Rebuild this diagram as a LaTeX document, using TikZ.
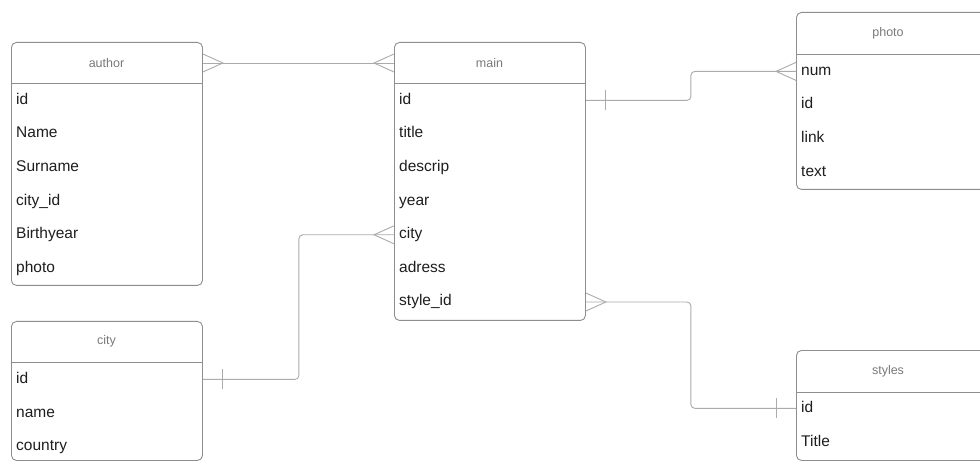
\documentclass[tikz,border=0pt]{standalone}
\usepackage{fontspec}
\setmainfont{Liberation Sans}
\definecolor{boxgray}{HTML}{8E8E8E}
\definecolor{linkgray}{HTML}{ABABAB}
\definecolor{hdrgray}{HTML}{7A7A7A}
\definecolor{fieldtext}{HTML}{1E1E1E}
\tikzset{
  tbl/.style={draw=boxgray, line width=0.9pt, rounded corners=5pt, anchor=north west, inner sep=0pt},
  hdr/.style={font=\fontsize{12.5}{15}\selectfont, text=hdrgray},
  field/.style={anchor=west, inner sep=0pt, text height=11pt, text depth=3pt, font=\fontsize{15.5}{18}\selectfont, text=fieldtext},
  hline/.style={draw=boxgray, line width=0.9pt},
  link/.style={draw=linkgray, line width=0.9pt},
}
\begin{document}
\begin{tikzpicture}[x=1pt,y=-1pt]
    \clip (0,0) rectangle (980,462);
    \fill[white] (0,0) rectangle (980,462);
    % tables
    \node[tbl, minimum width=191pt, minimum height=243pt] (author) at (11,42) {};
    \node[tbl, minimum width=191pt, minimum height=278pt] (main) at (394,42) {};
    \node[tbl, minimum width=194pt, minimum height=177pt] (photo) at (796,12) {};
    \node[tbl, minimum width=191pt, minimum height=139pt] (city) at (11,321) {};
    \node[tbl, minimum width=194pt, minimum height=110pt] (styles) at (796,350) {};
    % headers
    \node[hdr] (author-h) at (106.5,63) {author};
    \node[hdr] (main-h) at (489.5,63) {main};
    \node[hdr] (photo-h) at (888,33) {photo};
    \node[hdr] (city-h) at (106.5,341) {city};
    \node[hdr] (styles-h) at (888,371) {styles};
    \draw[hline] (author.west |- 0,83) -- (author.east |- 0,83);
    \draw[hline] (main.west |- 0,83) -- (main.east |- 0,83);
    \draw[hline] (photo.west |- 0,54) -- (photo.east |- 0,54);
    \draw[hline] (city.west |- 0,362) -- (city.east |- 0,362);
    \draw[hline] (styles.west |- 0,392) -- (styles.east |- 0,392);
    % fields
    \foreach \f [count=\i] in {id,Name,Surname,city\_id,Birthyear,photo}
        \node[field] (author-\i) at (16,{66.8+33.6*\i}) {\f};
    \foreach \f [count=\i] in {id,title,descrip,year,city,adress,style\_id}
        \node[field] (main-\i) at (399,{66.8+33.6*\i}) {\f};
    \foreach \f [count=\i] in {num,id,link,text}
        \node[field] (photo-\i) at (801,{37.8+33.6*\i}) {\f};
    \foreach \f [count=\i] in {id,name,country}
        \node[field] (city-\i) at (16,{345.8+33.6*\i}) {\f};
    \foreach \f [count=\i] in {id,Title}
        \node[field] (styles-\i) at (801,{374.8+33.6*\i}) {\f};
    % author -- main
    \draw[link] (author.east |- author-h) -- (main.west |- main-h);
    \draw[link] (author.east |- author-h) ++(0,-9) -- ++(20,9) -- ++(-20,9);
    \draw[link] (main.west |- main-h) ++(0,-9) -- ++(-20,9) -- ++(20,9);
    % main -- photo
    \draw[link, rounded corners=4pt] (main.east |- main-1) -- ++(105,0) |- (photo.west |- photo-1);
    \draw[link] (main.east |- main-1) ++(20,-10) -- ++(0,20);
    \draw[link] (photo.west |- photo-1) ++(0,-9) -- ++(-20,9) -- ++(20,9);
    % city -- main
    \draw[link, rounded corners=4pt] (city.east |- city-1) -- ++(96,0) |- (main.west |- main-5);
    \draw[link] (city.east |- city-1) ++(20,-10) -- ++(0,20);
    \draw[link] (main.west |- main-5) ++(0,-9) -- ++(-20,9) -- ++(20,9);
    % main -- styles
    \draw[link, rounded corners=4pt] (main.east |- main-7) -- ++(105,0) |- (styles.west |- styles-1);
    \draw[link] (main.east |- main-7) ++(0,-9) -- ++(20,9) -- ++(-20,9);
    \draw[link] (styles.west |- styles-1) ++(-20,-10) -- ++(0,20);
\end{tikzpicture}
\end{document}
